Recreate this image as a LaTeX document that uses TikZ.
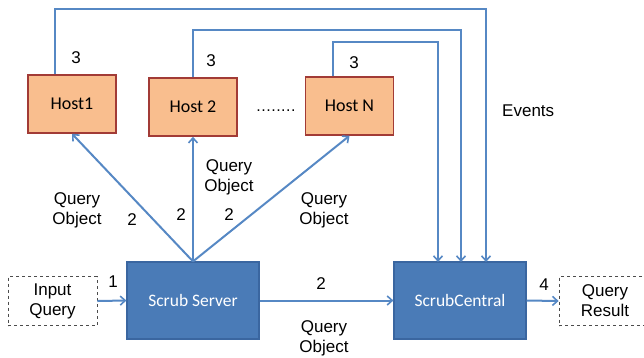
\documentclass[tikz,border=0pt]{standalone}
\usepackage{fontspec}
\setmainfont{Liberation Sans}
\newfontfamily\boxfont{Carlito}
\usetikzlibrary{arrows.meta}
\definecolor{hostfill}{HTML}{F9BE8E}
\definecolor{hostedge}{HTML}{A23B36}
\definecolor{srvfill}{HTML}{4A7BB7}
\definecolor{srvedge}{HTML}{3A66A0}
\definecolor{wire}{HTML}{5688C4}
\begin{document}
\begin{tikzpicture}[x=1pt,y=-1pt,
  every node/.style={font=\fontsize{17}{20}\selectfont, inner sep=0pt},
  host/.style={draw=hostedge, line width=1.5pt, fill=hostfill, minimum width=88pt, minimum height=58pt, font=\boxfont\fontsize{18}{21}\selectfont},
  server/.style={draw=srvedge, line width=1.2pt, fill=srvfill, text=white, minimum width=132pt, minimum height=77pt, font=\boxfont\fontsize{17.5}{21}\selectfont},
  ioBox/.style={draw=black!70, dashed, line width=0.7pt, minimum height=49pt, align=center},
  wirearrow/.style={draw=wire, line width=2pt, -{Straight Barb[length=5pt,width=9pt,line width=1.6pt]}},
  lbl/.style={align=center}]
\useasboundingbox (0,0) rectangle (644,357);

% hosts
\node[host] (h1) at (72,104) {Host1};
\node[host] (h2) at (193,107) {Host 2};
\node[host] (hn) at (349.5,106) {Host N};
\node (dots) at (276,111) {\fontsize{16}{16}\selectfont .\kern0.5pt.\kern0.5pt.\kern0.5pt.\kern0.5pt.\kern0.5pt.\kern0.5pt.\kern0.5pt.};

% servers
\node[server] (ss) at (193,300.5) {Scrub Server};
\node[server] (sc) at (460,300.5) {ScrubCentral};

% input / output
\node[ioBox, minimum width=89pt] (in) at (52.5,301) {Input\\Query};
\node[ioBox, minimum width=92pt] (out) at (605,301) {Query\\Result};

% queries to hosts
\draw[wirearrow] (ss.north) -- (h1.south);
\draw[wirearrow] (ss.north) -- (h2.south);
\draw[wirearrow] (ss.north) -- (hn.south);

% main flow
\draw[wirearrow] (in.east) -- (ss.west);
\draw[wirearrow] (ss.east) -- (sc.west);
\draw[wirearrow] (sc.east) -- (out.west);

% events back to ScrubCentral
\coordinate (e1) at (486,262);
\coordinate (e2) at (461,262);
\coordinate (e3) at (438,262);
\draw[wirearrow] (h1.north -| 55,0) |- (486,9) -- (e1);
\draw[wirearrow] (h2.north) |- (461,30) -- (e2);
\draw[wirearrow] (hn.north -| 333,0) |- (438,42) -- (e3);

% labels
\node at (76,58) {3};
\node at (211,61) {3};
\node at (354,63) {3};
\node[anchor=west] at (502,111) {Events};
\node[lbl] at (77,210) {Query\\Object};
\node[lbl] at (229,177) {Query\\Object};
\node[lbl] at (324,210) {Query\\Object};
\node[lbl] at (324,338) {Query\\Object};
\node at (132,220) {2};
\node at (181,215) {2};
\node at (229,215) {2};
\node at (321,284) {2};
\node at (113,282) {1};
\node at (544,285) {4};
\end{tikzpicture}
\end{document}
